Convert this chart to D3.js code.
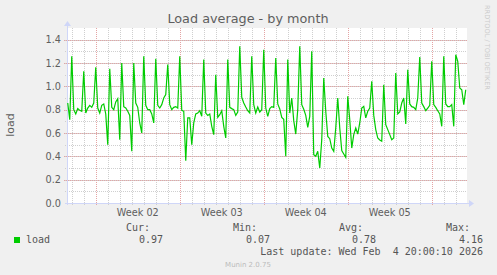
<!DOCTYPE html>
<html>
<head>
<meta charset="utf-8">
<script src="https://cdn.jsdelivr.net/npm/d3@7"></script>
<style>
body { margin: 0; background: #f0f0f0; }
svg { display: block; }
text { font-family: "DejaVu Sans", sans-serif; fill: #5e5e5e; }
.mono { font-family: "DejaVu Sans Mono", monospace; font-size: 10px; fill: #555; }
</style>
</head>
<body>
<div id="chart"></div>
<script>
// load average samples, one every 4 hours, first one Jan 2 2026 16:00
var loadValues = [
    0.857, 0.714, 1.257, 0.80, 0.763, 0.809, 0.794, 0.786, 1.129, 0.771,
    0.814, 0.837, 0.82, 0.857, 1.163, 0.814, 0.771, 0.837, 0.849, 0.763,
    0.50, 1.151, 0.82, 0.80, 0.866, 0.894, 0.543, 1.20, 0.826, 0.814,
    0.786, 0.751, 0.443, 1.20, 0.857, 0.82, 0.686, 0.60, 1.257, 0.837,
    0.80, 0.80, 0.763, 0.686, 1.237, 0.837, 0.814, 0.843, 0.90, 0.929,
    1.186, 0.843, 0.80, 0.82, 0.826, 0.814, 1.257, 0.794, 0.786, 0.363,
    0.729, 0.729, 0.50, 0.686, 0.763, 0.771, 0.791, 0.743, 1.229, 0.771,
    0.751, 0.763, 0.657, 0.586, 1.10, 0.734, 0.757, 0.791, 0.657, 0.557,
    1.229, 0.82, 0.809, 0.80, 0.751, 0.78, 1.343, 0.906, 0.857, 0.823,
    0.791, 0.771, 1.257, 0.843, 0.771, 0.823, 0.78, 0.80, 1.314, 0.814,
    0.743, 0.809, 0.826, 0.82, 1.243, 0.849, 0.806, 0.734, 0.717, 0.40,
    1.229, 0.771, 0.90, 0.706, 0.591, 0.80, 1.343, 0.843, 0.803, 0.751,
    0.649, 0.743, 1.30, 0.414, 0.40, 0.443, 0.30, 0.543, 1.071, 0.786,
    0.571, 0.551, 0.471, 0.443, 0.643, 0.90, 0.643, 0.449, 0.42, 0.391,
    0.914, 0.714, 0.471, 0.586, 0.643, 0.591, 0.686, 0.814, 0.829, 0.729,
    0.786, 0.814, 1.043, 0.751, 0.629, 0.557, 0.54, 0.529, 1.014, 0.671,
    0.629, 0.586, 0.543, 0.557, 1.114, 0.763, 0.78, 0.857, 0.90, 0.677,
    1.143, 0.849, 0.826, 0.82, 0.80, 0.90, 1.251, 0.857, 0.826, 0.791,
    0.814, 0.837, 1.214, 0.843, 0.82, 0.791, 0.763, 0.657, 1.257, 0.849,
    0.826, 0.826, 0.843, 0.657, 1.271, 1.214, 0.986, 0.971, 0.843, 0.971
];
var firstSample = Date.UTC(2026, 0, 2, 16, 0);
var sampleStep = 4 * 3600 * 1000;

var yTicks = [0, 0.2, 0.4, 0.6, 0.8, 1.0, 1.2, 1.4];
var weekStarts = [Date.UTC(2026, 0, 5), Date.UTC(2026, 0, 12), Date.UTC(2026, 0, 19), Date.UTC(2026, 0, 26), Date.UTC(2026, 1, 2)];
var weekLabels = ["Week 02", "Week 03", "Week 04", "Week 05"];

var legendHeads = ["Cur:", "Min:", "Avg:", "Max:"];
var legendValues = ["0.97", "0.07", "0.78", "4.16"];
var lastUpdate = "Last update: Wed Feb  4 20:00:10 2026";

function drawChart() {
    var svgWidth = 497, svgHeight = 275;
    var left = 67, right = 467, plotTop = 28, bottom = 203;
    var green = "#00cc00";

    var data = loadValues.map(function (v, i) {
        return { t: new Date(firstSample + i * sampleStep), v: v };
    });

    var xScale = d3.scaleUtc()
        .domain([new Date(Date.UTC(2026, 0, 2, 14, 30)), new Date(Date.UTC(2026, 1, 4, 22, 30))])
        .range([left, right]);
    var yScale = d3.scaleLinear().domain([0, 1.5]).range([bottom, plotTop]);

    var svg = d3.select("#chart").append("svg")
        .attr("width", svgWidth)
        .attr("height", svgHeight);

    svg.append("rect").attr("x", left).attr("y", plotTop)
        .attr("width", right - left).attr("height", bottom - plotTop)
        .attr("fill", "#ffffff");

    // minor grid
    var days = d3.utcDay.range(xScale.domain()[0], xScale.domain()[1]);
    svg.append("g").selectAll("line").data(days).enter().append("line")
        .attr("x1", d => Math.round(xScale(d)) + 0.5).attr("x2", d => Math.round(xScale(d)) + 0.5)
        .attr("y1", plotTop).attr("y2", bottom + 2)
        .attr("stroke", "#cfcfcf").attr("stroke-dasharray", "1,1");
    var minorY = d3.range(1, 15).map(d => d / 10);
    svg.append("g").selectAll("line").data(minorY).enter().append("line")
        .attr("x1", left - 2).attr("x2", right)
        .attr("y1", d => Math.round(yScale(d)) + 0.5).attr("y2", d => Math.round(yScale(d)) + 0.5)
        .attr("stroke", "#cfcfcf").attr("stroke-dasharray", "1,1");

    // major grid
    svg.append("g").selectAll("line").data(weekStarts).enter().append("line")
        .attr("x1", d => Math.round(xScale(d)) + 0.5).attr("x2", d => Math.round(xScale(d)) + 0.5)
        .attr("y1", plotTop).attr("y2", bottom + 3)
        .attr("stroke", "#e4a4a4").attr("stroke-dasharray", "1,1");
    svg.append("g").selectAll("line").data(yTicks.slice(1)).enter().append("line")
        .attr("x1", left - 3).attr("x2", right)
        .attr("y1", d => Math.round(yScale(d)) + 0.5).attr("y2", d => Math.round(yScale(d)) + 0.5)
        .attr("stroke", "#e4a4a4").attr("stroke-dasharray", "1,1");

    // axes with arrows
    var axisColor = "#cfd6f8";
    svg.append("line").attr("x1", left - 2).attr("x2", right + 3)
        .attr("y1", bottom + 0.5).attr("y2", bottom + 0.5).attr("stroke", axisColor);
    svg.append("line").attr("x1", left + 0.5).attr("x2", left + 0.5)
        .attr("y1", bottom + 2).attr("y2", plotTop - 3).attr("stroke", axisColor);
    svg.append("path").attr("d", `M${right + 2},${bottom - 3}L${right + 7},${bottom + 0.5}L${right + 2},${bottom + 4}Z`)
        .attr("fill", axisColor);
    svg.append("path").attr("d", `M${left - 3},${plotTop - 2}L${left + 0.5},${plotTop - 7}L${left + 4},${plotTop - 2}Z`)
        .attr("fill", axisColor);

    var line = d3.line().x(d => xScale(d.t)).y(d => yScale(d.v));
    svg.append("path").datum(data)
        .attr("d", line)
        .attr("fill", "none")
        .attr("stroke", green)
        .attr("stroke-width", 1.2);

    svg.append("g").selectAll("text").data(yTicks).enter().append("text")
        .attr("x", 61).attr("y", d => yScale(d) + 3.5)
        .attr("text-anchor", "end").style("font-size", "9.7px")
        .text(d => d3.format(".1f")(d));

    svg.append("g").selectAll("text").data(weekLabels).enter().append("text")
        .attr("x", (d, i) => (xScale(weekStarts[i]) + xScale(weekStarts[i + 1])) / 2)
        .attr("y", 216)
        .attr("text-anchor", "middle").style("font-size", "9.7px")
        .text(d => d);

    svg.append("text").attr("x", 248).attr("y", 23)
        .attr("text-anchor", "middle").style("font-size", "12.8px")
        .text("Load average - by month");

    svg.append("text").attr("transform", "translate(14, 125) rotate(-90)")
        .attr("text-anchor", "middle").style("font-size", "11px")
        .text("load");

    svg.append("text").attr("transform", "translate(485, 5) rotate(90)")
        .style("font-size", "6.6px").style("fill", "#cccccc")
        .text("RRDTOOL / TOBI OETIKER");

    // legend
    var legendRight = [150, 257, 363, 470];
    svg.append("g").selectAll("text").data(legendHeads).enter().append("text")
        .attr("class", "mono").attr("x", (d, i) => legendRight[i]).attr("y", 231)
        .attr("text-anchor", "end").text(d => d);
    svg.append("g").selectAll("text").data(legendValues).enter().append("text")
        .attr("class", "mono").attr("x", (d, i) => legendRight[i] + 13).attr("y", 243)
        .attr("text-anchor", "end").text(d => d);
    svg.append("rect").attr("x", 14).attr("y", 237).attr("width", 6).attr("height", 6).attr("fill", green);
    svg.append("text").attr("class", "mono").attr("x", 26).attr("y", 243).text("load");
    svg.append("text").attr("class", "mono").attr("x", 483).attr("y", 255)
        .attr("text-anchor", "end").style("white-space", "pre").text(lastUpdate);

    svg.append("text").attr("x", 248).attr("y", 267)
        .attr("text-anchor", "middle").style("font-size", "7px").style("fill", "#bbbbbb")
        .text("Munin 2.0.75");
}

drawChart();
</script>
</body>
</html>
